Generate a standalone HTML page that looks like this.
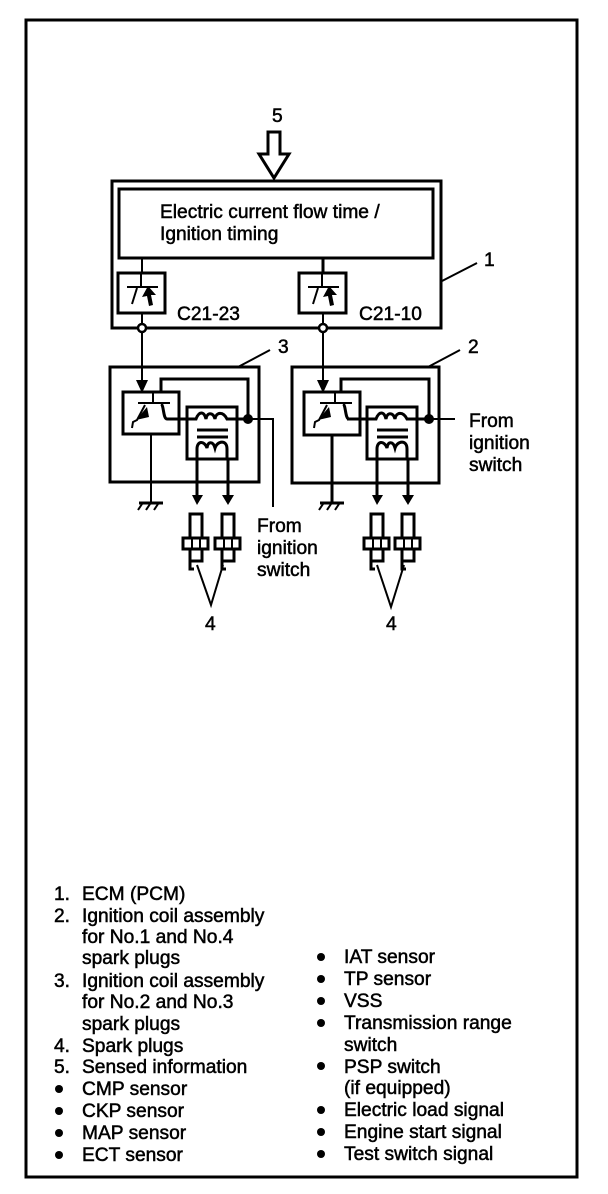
<!DOCTYPE html>
<html>
<head>
<meta charset="utf-8">
<style>
html,body{margin:0;padding:0;background:#fff;width:608px;height:1194px;overflow:hidden}
svg{display:block}
text{font-family:"Liberation Sans",sans-serif;font-size:19.2px;fill:#000;stroke:#000;stroke-width:.5px}
.l{fill:none;stroke:#000;stroke-width:2}
.t{fill:none;stroke:#000;stroke-width:3}
.f{fill:#000;stroke:none}
</style>
</head>
<body>
<svg width="608" height="1194" viewBox="0 0 608 1194" xmlns="http://www.w3.org/2000/svg">
<defs>
<g id="tr">
  <rect class="t" x="0" y="0" width="47" height="40"/>
  <path class="l" d="M9 14H40M23 14V0M19 15L14 31"/>
  <path class="f" d="M30 13L24 24L29 23L31 33L35 32L33 22L38 22Z"/>
</g>
<g id="mod">
  <path class="l" d="M-15 11H17M0 11V0M-8 13L-16 28L-20 30L-21 36"/>
  <path class="f" d="M-6 15L-17 28L-4 25Z"/>
  <path class="t" d="M8 12C11 13 10 27 14 27H34"/>
</g>
<g id="coil">
  <rect class="t" x="0" y="0" width="50" height="52"/>
  <path class="t" d="M-20 12H9C12 4 17 4 19 12C20 5 26 5 28 12C29 5 36 4 40 12H62"/>
  <path class="t" d="M10 23H41M10 30H41"/>
  <path class="t" d="M10 52V42C10 34 17 33 20 41C21 34 26 34 28 41C30 34 40 32 40 42V52"/>
</g>
<g id="plug">
  <rect class="t" x="0" y="0" width="12" height="24"/>
  <rect class="t" x="-7" y="24" width="25" height="11"/>
  <path class="l" d="M2 24V35M10 24V35"/>
  <rect class="t" x="0" y="35" width="12" height="12"/>
  <path class="t" d="M0 47V55H4"/>
</g>
</defs>

<!-- frame -->
<rect x="26" y="20" width="551" height="1157" fill="none" stroke="#000" stroke-width="3"/>

<!-- top arrow -->
<text x="272" y="122">5</text>
<path d="M268 132H280V154H289L274 178L259 154H268Z" fill="#fff" stroke="#000" stroke-width="3"/>

<!-- ECM -->
<rect class="t" x="112" y="181" width="329" height="147"/>
<rect class="t" x="119" y="189" width="314" height="69"/>
<text x="160" y="218">Electric current flow time /</text>
<text x="160" y="240">Ignition timing</text>
<path class="l" d="M142 258V273"/>
<path class="t" d="M323 258V273"/>
<use href="#tr" x="118" y="273"/>
<use href="#tr" x="299" y="273"/>
<text x="177" y="320">C21-23</text>
<text x="359" y="320">C21-10</text>
<path class="l" d="M142 313V324M323 313V324"/>
<circle cx="142" cy="328" r="4" fill="#fff" stroke="#000" stroke-width="2.5"/>
<circle cx="323" cy="328" r="4" fill="#fff" stroke="#000" stroke-width="2.5"/>
<path class="l" d="M442 281L477 263"/>
<text x="484" y="266">1</text>

<!-- left assembly -->
<path class="l" d="M142 332V382"/>
<path class="f" d="M136 380H148L142 393Z"/>
<rect class="t" x="110" y="367" width="149" height="115"/>
<rect class="t" x="123" y="392" width="56" height="42"/>
<use href="#mod" x="153" y="392"/>
<path class="t" d="M161 392V379H248V419"/>
<use href="#coil" x="187" y="407"/>
<circle class="f" cx="248" cy="419" r="5"/>
<path class="l" d="M249 419H273V507"/>
<path class="l" d="M151 434V503"/>
<path class="t" d="M139 503H163"/>
<path class="l" d="M142 504L138 510M150 504L146 510M158 504L154 510"/>
<path class="t" d="M197 459V495M228 459V495"/>
<path class="f" d="M192 495H203L197 505ZM222 495H234L228 505Z"/>
<use href="#plug" x="190" y="514"/>
<use href="#plug" x="222" y="514"/>
<path class="l" d="M197 565L211 605L223 565"/>
<text x="205" y="630">4</text>
<path class="l" d="M238 367L270 350"/>
<text x="278" y="353">3</text>
<text x="257" y="532">From</text>
<text x="257" y="554">ignition</text>
<text x="257" y="576">switch</text>

<!-- right assembly -->
<path class="l" d="M323 332V382"/>
<path class="f" d="M317 380H329L323 393Z"/>
<rect class="t" x="292" y="367" width="147" height="116"/>
<rect class="t" x="304" y="392" width="56" height="43"/>
<use href="#mod" x="335" y="392"/>
<path class="t" d="M341 392V379H429V419"/>
<use href="#coil" x="367" y="407"/>
<circle class="f" cx="429" cy="419" r="5"/>
<path class="l" d="M430 419H455"/>
<path class="t" d="M332 435V503"/>
<path class="t" d="M320 503H344"/>
<path class="l" d="M323 504L319 510M331 504L327 510M339 504L335 510"/>
<path class="t" d="M377 459V495M408 459V495"/>
<path class="f" d="M372 495H383L377 505ZM402 495H414L408 505Z"/>
<use href="#plug" x="371" y="514"/>
<use href="#plug" x="402" y="514"/>
<path class="l" d="M377 565L391 607L404 565"/>
<text x="386" y="630">4</text>
<path class="l" d="M428 367L460 350"/>
<text x="468" y="353">2</text>
<text x="469" y="427">From</text>
<text x="469" y="449">ignition</text>
<text x="469" y="471">switch</text>

<!-- left list -->
<text x="54" y="900">1.</text><text x="82" y="900">ECM (PCM)</text>
<text x="54" y="922">2.</text><text x="82" y="922">Ignition coil assembly</text>
<text x="82" y="943">for No.1 and No.4</text>
<text x="82" y="964">spark plugs</text>
<text x="54" y="987">3.</text><text x="82" y="987">Ignition coil assembly</text>
<text x="82" y="1008">for No.2 and No.3</text>
<text x="82" y="1030">spark plugs</text>
<text x="54" y="1052">4.</text><text x="82" y="1052">Spark plugs</text>
<text x="54" y="1073">5.</text><text x="82" y="1073">Sensed information</text>
<circle class="f" cx="59" cy="1089" r="4"/><text x="82" y="1095">CMP sensor</text>
<circle class="f" cx="59" cy="1111" r="4"/><text x="82" y="1117">CKP sensor</text>
<circle class="f" cx="59" cy="1133" r="4"/><text x="82" y="1139">MAP sensor</text>
<circle class="f" cx="59" cy="1155" r="4"/><text x="82" y="1161">ECT sensor</text>

<!-- right list -->
<circle class="f" cx="321" cy="957" r="4"/><text x="344" y="963">IAT sensor</text>
<circle class="f" cx="321" cy="979" r="4"/><text x="344" y="985">TP sensor</text>
<circle class="f" cx="321" cy="1001" r="4"/><text x="344" y="1007">VSS</text>
<circle class="f" cx="321" cy="1023" r="4"/><text x="344" y="1029">Transmission range</text>
<text x="344" y="1051">switch</text>
<circle class="f" cx="321" cy="1066" r="4"/><text x="344" y="1073">PSP switch</text>
<text x="344" y="1094">(if equipped)</text>
<circle class="f" cx="321" cy="1110" r="4"/><text x="344" y="1116">Electric load signal</text>
<circle class="f" cx="321" cy="1132" r="4"/><text x="344" y="1138">Engine start signal</text>
<circle class="f" cx="321" cy="1154" r="4"/><text x="344" y="1160">Test switch signal</text>
</svg>
</body>
</html>
